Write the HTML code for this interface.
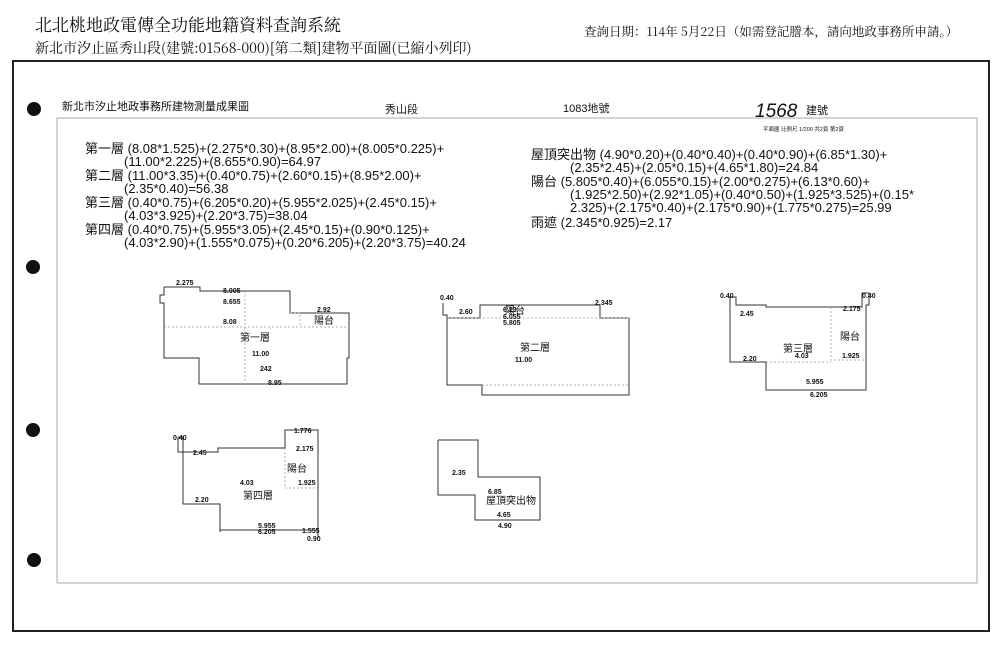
<!DOCTYPE html>
<html><head><meta charset="utf-8"><style>
html,body{margin:0;padding:0;background:#fff;}
svg{display:block}
text{font-family:"Liberation Sans","Noto Sans CJK TC",sans-serif;fill:#111}
.s{font-family:"Noto Serif CJK SC","Liberation Serif",serif}
.f{font-size:13px}
.d{font-size:7px;font-weight:bold}
.l{font-size:10px}
.o{fill:none;stroke:#333;stroke-width:1}
.dash{fill:none;stroke:#999;stroke-width:0.8;stroke-dasharray:2,2}
</style></head><body>
<svg width="1000" height="646" viewBox="0 0 1000 646" xmlns="http://www.w3.org/2000/svg">
<text x="35" y="31" class="s" font-size="17">北北桃地政電傳全功能地籍資料查詢系統</text>
<text x="35" y="53" class="s" font-size="14">新北市汐止區秀山段(建號:01568-000)[第二類]建物平面圖(已縮小列印)</text>
<text x="584" y="36" class="s" font-size="12.5">查詢日期：114年 5月22日（如需登記謄本，請向地政事務所申請。）</text>
<rect x="13" y="61" width="976" height="570" fill="none" stroke="#222" stroke-width="2"/>
<rect x="57" y="118" width="920" height="465" fill="none" stroke="#aaa" stroke-width="1"/>
<circle cx="34" cy="109" r="7" fill="#111"/>
<circle cx="33" cy="267" r="7" fill="#111"/>
<circle cx="33" cy="430" r="7" fill="#111"/>
<circle cx="34" cy="560" r="7" fill="#111"/>
<text x="62" y="110" font-size="11">新北市汐止地政事務所建物測量成果圖</text>
<text x="385" y="113" font-size="11">秀山段</text>
<text x="563" y="112" font-size="11">1083地號</text>
<text x="755" y="117" font-size="19" font-style="italic" font-family="Liberation Serif">1568</text>
<text x="806" y="114" font-size="11">建號</text>
<text x="763" y="131" font-size="5.5">平面圖 比例尺 1/200 共2頁 第2頁</text>
<g class="f">
<text x="85" y="153">第一層 (8.08*1.525)+(2.275*0.30)+(8.95*2.00)+(8.005*0.225)+</text>
<text x="124" y="166">(11.00*2.225)+(8.655*0.90)=64.97</text>
<text x="85" y="180">第二層 (11.00*3.35)+(0.40*0.75)+(2.60*0.15)+(8.95*2.00)+</text>
<text x="124" y="193">(2.35*0.40)=56.38</text>
<text x="85" y="207">第三層 (0.40*0.75)+(6.205*0.20)+(5.955*2.025)+(2.45*0.15)+</text>
<text x="124" y="220">(4.03*3.925)+(2.20*3.75)=38.04</text>
<text x="85" y="234">第四層 (0.40*0.75)+(5.955*3.05)+(2.45*0.15)+(0.90*0.125)+</text>
<text x="124" y="247">(4.03*2.90)+(1.555*0.075)+(0.20*6.205)+(2.20*3.75)=40.24</text>
<text x="531" y="159">屋頂突出物 (4.90*0.20)+(0.40*0.40)+(0.40*0.90)+(6.85*1.30)+</text>
<text x="570" y="172">(2.35*2.45)+(2.05*0.15)+(4.65*1.80)=24.84</text>
<text x="531" y="186">陽台 (5.805*0.40)+(6.055*0.15)+(2.00*0.275)+(6.13*0.60)+</text>
<text x="570" y="199">(1.925*2.50)+(2.92*1.05)+(0.40*0.50)+(1.925*3.525)+(0.15*</text>
<text x="570" y="212">2.325)+(2.175*0.40)+(2.175*0.90)+(1.775*0.275)=25.99</text>
<text x="531" y="227">雨遮 (2.345*0.925)=2.17</text>
</g>
<polyline class="o" points="164,287 200,287 200,291 290,291 290,313 349,313 349,358 347,358 347,384 199,384 199,358 164,358 164,303 160,303 160,295 164,295 164,287"/>
<polyline class="dash" points="290,313 300,313 300,327 349,327"/>
<line class="dash" x1="245" y1="291" x2="245" y2="384"/>
<line class="dash" x1="164" y1="327" x2="300" y2="327"/>
<g class="d"><text x="176" y="285">2.275</text><text x="223" y="293">8.005</text><text x="223" y="304">8.655</text><text x="223" y="324">8.08</text><text x="252" y="356">11.00</text><text x="268" y="385">8.95</text><text x="317" y="312">2.92</text></g>
<text x="240" y="341" class="l">第一層</text><text x="314" y="324" class="l">陽台</text>
<text x="260" y="371" class="d" fill="#aaa">242</text>
<polyline class="o" points="443,303 443,315 447,315 447,385 482,385 482,395 629,395 629,318 600,318 600,305 480,305 480,318 447,318"/>
<line class="dash" x1="447" y1="318" x2="629" y2="318"/>
<line class="dash" x1="482" y1="385" x2="629" y2="385"/>
<g class="d"><text x="440" y="300">0.40</text><text x="459" y="314">2.60</text><text x="503" y="312">6.13</text><text x="503" y="319">6.055</text><text x="503" y="325">5.805</text><text x="595" y="305">2.345</text><text x="515" y="362">11.00</text></g>
<text x="505" y="314" class="l">陽台</text><text x="520" y="351" class="l">第二層</text>
<polyline class="o" points="730,297 730,362 766,362 766,390 866,390 866,305 869,305 869,293 862,293 862,307 766,307 766,305 736,305 736,297 730,297"/>
<polyline class="dash" points="831,307 831,360 866,360"/>
<line class="dash" x1="766" y1="362" x2="831" y2="362"/>
<g class="d"><text x="720" y="298">0.40</text><text x="740" y="316">2.45</text><text x="843" y="311">2.175</text><text x="862" y="298">0.40</text><text x="743" y="361">2.20</text><text x="795" y="358">4.03</text><text x="842" y="358">1.925</text><text x="806" y="384">5.955</text><text x="810" y="397">6.205</text></g>
<text x="783" y="352" class="l">第三層</text><text x="840" y="340" class="l">陽台</text>
<polyline class="o" points="178,437 183,437 183,452 218,452 218,448 285,448 285,430 318,430 318,530 220,530 220,532 220,504 183,504 183,452 178,452 178,437"/>
<polyline class="dash" points="285,448 285,488 318,488"/>
<line class="o" x1="318" y1="530" x2="318" y2="538"/>
<g class="d"><text x="173" y="440">0.40</text><text x="193" y="455">2.45</text><text x="294" y="433">1.776</text><text x="296" y="451">2.175</text><text x="240" y="485">4.03</text><text x="298" y="485">1.925</text><text x="195" y="502">2.20</text><text x="258" y="528">5.955</text><text x="258" y="534">6.205</text><text x="302" y="533">1.555</text><text x="307" y="541">0.90</text></g>
<text x="243" y="499" class="l">第四層</text><text x="287" y="472" class="l">陽台</text>
<polyline class="o" points="438,440 438,495 475,495 475,520 540,520 540,477 478,477 478,440 438,440"/>
<g class="d"><text x="452" y="475">2.35</text><text x="488" y="494">6.85</text><text x="497" y="517">4.65</text><text x="498" y="528">4.90</text></g>
<text x="486" y="504" class="l">屋頂突出物</text>
</svg>
</body></html>
